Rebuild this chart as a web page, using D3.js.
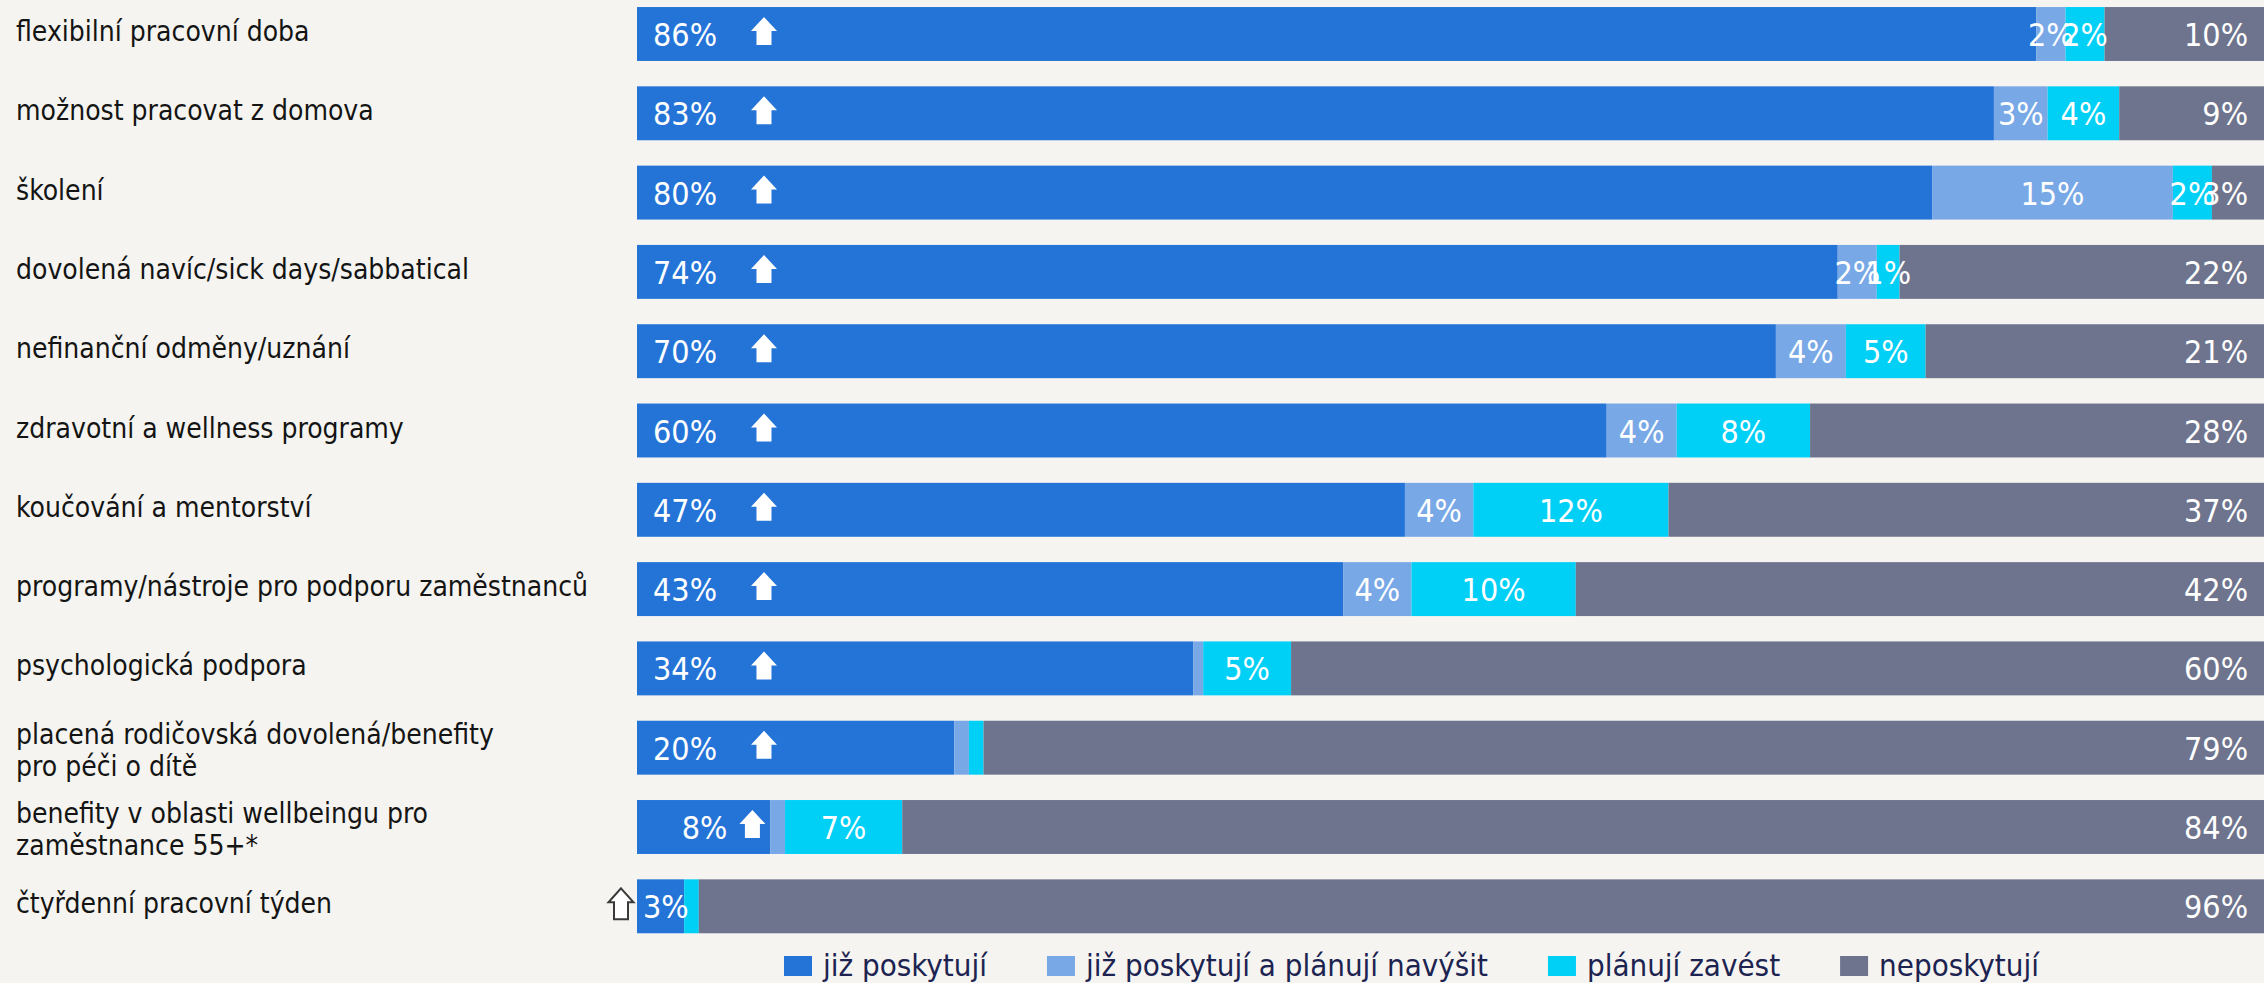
<!DOCTYPE html>
<html><head><meta charset="utf-8">
<script src="https://cdn.jsdelivr.net/npm/d3@7"></script>
<style>html,body{margin:0;padding:0;background:#f5f4f0;} svg{display:block}</style>
</head><body><svg id="chart" width="2264" height="983"></svg>
<script>
// ---- data (in %) ----
const categories = [
  "flexibilní pracovní doba",
  "možnost pracovat z domova",
  "školení",
  "dovolená navíc/sick days/sabbatical",
  "nefinanční odměny/uznání",
  "zdravotní a wellness programy",
  "koučování a mentorství",
  "programy/nástroje pro podporu zaměstnanců",
  "psychologická podpora",
  "placená rodičovská dovolená/benefity\npro péči o dítě",
  "benefity v oblasti wellbeingu pro\nzaměstnance 55+*",
  "čtyřdenní pracovní týden"
];
const providing          = [86.0, 83.4, 79.6, 73.8, 70.0, 59.6, 47.2, 43.4, 34.2, 19.5, 8.2, 2.9];
const providingIncrease  = [ 1.8,  3.3, 14.8,  2.4,  4.3,  4.3,  4.2,  4.2,  0.6,  0.9, 0.9, 0.0];
const planning           = [ 2.4,  4.4,  2.4,  1.4,  4.9,  8.2, 12.0, 10.1,  5.4,  0.9, 7.2, 0.9];
const notProviding       = [ 9.8,  8.9,  3.2, 22.4, 20.8, 27.9, 36.6, 42.3, 59.8, 78.7, 83.7, 96.2];
const trendUp            = [true, true, true, true, true, true, true, true, true, true, true, true];
const seriesNames = ["již poskytují", "již poskytují a plánují navýšit", "plánují zavést", "neposkytují"];
const seriesColors = ["#2474d8", "#78a8e6", "#00cff6", "#6e748d"];
const xTicks = [0, 100];

// ---- layout ----
const W = 2264, H = 983;
const FONT = "'DejaVu Sans Condensed', 'DejaVu Sans', sans-serif";
const svg = d3.select("#chart");
svg.append("rect").attr("width", W).attr("height", H).attr("fill", "#f5f4f0");

const x = d3.scaleLinear().domain(xTicks).range([637, 2264]);
const step = 79.3;
const y0 = -5.65;
const y = d3.scaleBand().domain(categories)
  .range([y0, y0 + categories.length * step])
  .paddingInner(0.32).paddingOuter(0.16);
const bw = y.bandwidth();

const rows = categories.map((c, i) => ({cat: c, i, vals: [providing[i], providingIncrease[i], planning[i], notProviding[i]]}));
const series = d3.stack().keys([0, 1, 2, 3]).value((d, k) => d.vals[k])(rows);

// bars
const gBars = svg.append("g");
series.forEach((s, k) => {
  gBars.selectAll(null).data(s).join("rect")
    .attr("x", d => x(d[0]))
    .attr("y", d => y(d.data.cat))
    .attr("width", d => Math.max(0, x(d[1]) - x(d[0])))
    .attr("height", bw)
    .attr("fill", seriesColors[k]);
});

// category labels (left axis)
const yAxis = d3.axisLeft(y).tickSize(0).tickPadding(0);
const gAx = svg.append("g").attr("transform", `translate(${x(0)},0)`).call(yAxis);
gAx.select(".domain").remove();
gAx.selectAll(".tick text").each(function(d) {
  const t = d3.select(this);
  const lines = d.split("\n");
  t.text(null).attr("text-anchor", "start").attr("x", 16 - x(0)).attr("dy", null)
    .attr("font-family", FONT).attr("font-size", 28).attr("fill", "#141414");
  if (lines.length === 1) {
    t.attr("y", 7).text(lines[0]);
  } else {
    t.attr("y", 0);
    lines.forEach((ln, j) => {
      t.append("tspan").attr("x", 16 - x(0)).attr("y", j === 0 ? -4 : 28).text(ln);
    });
  }
});

// value labels
const gLab = svg.append("g").attr("font-family", FONT).attr("font-size", 32).attr("fill", "#ffffff");
const fmt = v => Math.round(v) + "%";
const arrowPath = (cx, top, h = 28, hw = 13, sh = 7.5, hh = 14) =>
  `M${cx},${top} L${cx + hw},${top + hh} L${cx + sh},${top + hh} L${cx + sh},${top + h} L${cx - sh},${top + h} L${cx - sh},${top + hh} L${cx - hw},${top + hh} Z`;

series.forEach((s, k) => {
  s.forEach(d => {
    const v = d[1] - d[0];
    const cy = y(d.data.cat) + bw / 2;
    const base = cy + 12;
    const xs = x(d[0]), xe = x(d[1]), sw = xe - xs;
    if (k === 0) {
      const t = gLab.append("text").attr("y", base).text(fmt(v));
      const tw = t.node().getComputedTextLength();
      const up = trendUp[d.data.i];
      if (sw >= 150) {
        t.attr("x", xs + 16);
        if (up) gLab.append("path").attr("d", arrowPath(xs + 16 + tw + 34 + 13, cy - 17)).attr("fill", "#ffffff");
      } else if (sw >= 80) {
        const acx = xe - 5 - 13;
        t.attr("x", acx - 13 - 12).attr("text-anchor", "end");
        if (up) gLab.append("path").attr("d", arrowPath(acx, cy - 17)).attr("fill", "#ffffff");
      } else {
        t.attr("x", xs + 6);
        if (up) gLab.append("path").attr("d", arrowPath(xs - 16, cy - 18, 31, 12.5, 7, 14))
          .attr("fill", "#ffffff").attr("stroke", "#3a3a3a").attr("stroke-width", 2).attr("stroke-linejoin", "miter");
      }
    } else if (k === 3) {
      if (v >= 1) gLab.append("text").attr("x", xe - 16).attr("y", base).attr("text-anchor", "end").text(fmt(v));
    } else {
      if (v >= 1) gLab.append("text").attr("x", (xs + xe) / 2).attr("y", base).attr("text-anchor", "middle").text(fmt(v));
    }
  });
});

// legend
const gLeg = svg.append("g").attr("font-family", FONT).attr("font-size", 31).attr("fill", "#1c2350");
let lx = 784;
const ly = 966;
seriesNames.forEach((n, k) => {
  gLeg.append("rect").attr("x", lx).attr("y", ly - 10).attr("width", 28).attr("height", 20).attr("fill", seriesColors[k]);
  const t = gLeg.append("text").attr("x", lx + 39).attr("y", ly + 10).text(n);
  lx += 39 + t.node().getComputedTextLength() + 60;
});
</script>
</body></html>
